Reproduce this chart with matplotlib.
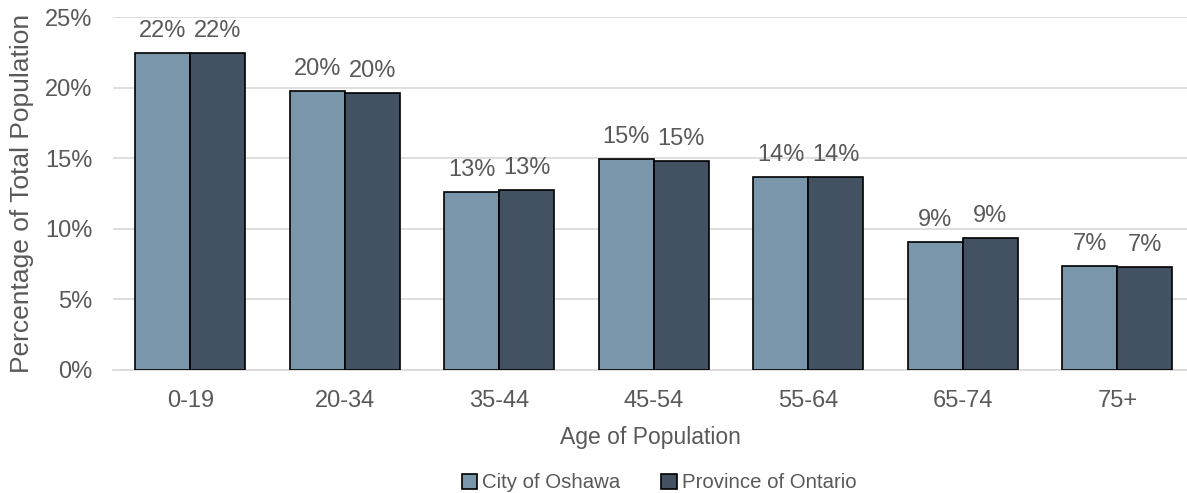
import numpy as np
import matplotlib
matplotlib.use("Agg")
import matplotlib.pyplot as plt

plt.rcParams['font.family'] = ['Liberation Sans', 'DejaVu Sans']

age_groups = ["0-19", "20-34", "35-44", "45-54", "55-64", "65-74", "75+"]
oshawa = [22.47, 19.76, 12.6, 14.97, 13.65, 9.09, 7.37]
ontario = [22.47, 19.6, 12.72, 14.8, 13.65, 9.37, 7.29]
series_names = ["City of Oshawa", "Province of Ontario"]

text_col = "#595959"
grid_col = "#D9D9D9"
colors = ["#7A96AB", "#425263"]

fig = plt.figure(figsize=(11.87, 4.93), dpi=100)
ax = fig.add_axes([113/1187, 123/493, 1 - 113/1187, 353/493])

x = np.arange(len(age_groups))
w = 0.356
for vals, off, col, name in zip([oshawa, ontario], [-w/2, w/2], colors, series_names):
    bars = ax.bar(x + off, vals, w, color=col, edgecolor="black", linewidth=1.2,
                  label=name, zorder=3)
    for b, v in zip(bars, vals):
        ax.annotate(f"{round(v):.0f}%", (b.get_x() + b.get_width()/2, v),
                    xytext=(0, 8), textcoords="offset points",
                    ha="center", va="bottom", fontsize=17, color=text_col)

ax.set_xlim(-0.5, 6.45)
ax.set_ylim(0, 25)
ax.set_yticks(range(0, 26, 5))
ax.set_yticklabels([f"{t}%" for t in range(0, 26, 5)])
ax.set_xticks(x)
ax.set_xticklabels(age_groups)
ax.tick_params(length=0, labelsize=17, labelcolor=text_col)
ax.tick_params(axis="y", pad=15)
ax.tick_params(axis="x", pad=14.5)
ax.grid(axis="y", color=grid_col, linewidth=1.2, zorder=0)
for s in ["top", "right", "left"]:
    ax.spines[s].set_visible(False)
ax.spines["bottom"].set_color(grid_col)
ax.spines["bottom"].set_linewidth(1.2)

ax.set_xlabel("Age of Population", fontsize=16.5, color=text_col, labelpad=10)
ax.set_ylabel("Percentage of Total Population", fontsize=19, color=text_col, labelpad=8)

fig.legend(loc="center", bbox_to_anchor=(659/1187, 1 - 483/493), ncol=2,
           frameon=False, fontsize=14.7, labelcolor=text_col,
           handlelength=0.75, handleheight=0.75, handletextpad=0.25, columnspacing=2.0)

fig.savefig("out.png", dpi=100)
